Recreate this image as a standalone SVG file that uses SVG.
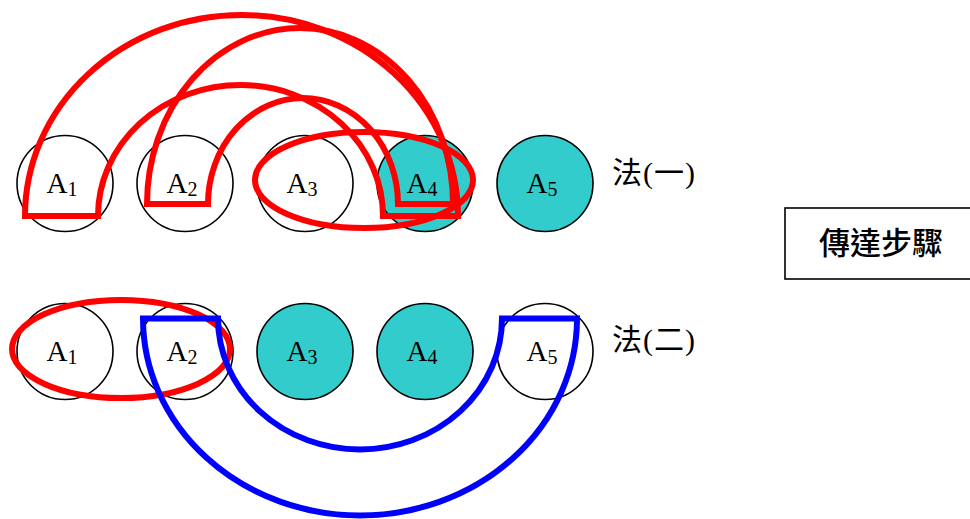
<svg xmlns="http://www.w3.org/2000/svg" width="970" height="519" viewBox="0 0 970 519">
<style>
.node circle{stroke:#000;stroke-width:1.6}
.plain{fill:#fff}
.teal{fill:#33CCCC}
.lbl{font-family:"Liberation Serif","Times New Roman",serif;font-size:29px;fill:#000;text-anchor:middle}
.sub{font-size:20px}
.red{fill:none;stroke:#FF0000;stroke-width:6}
.blue{fill:none;stroke:#0000FF;stroke-width:6}
.cap{font-family:"Liberation Serif","Noto Sans CJK TC",serif;font-size:30px;letter-spacing:1px;fill:#000}
.title{font-family:"Noto Sans CJK TC","Noto Sans CJK SC",sans-serif;font-size:31px;font-weight:500;fill:#000;text-anchor:middle}
</style>
<rect width="970" height="519" fill="#fff"/>
<g id="row1">
<g id="t-A1" class="node"><circle class="plain" cx="65" cy="183.5" r="48"/><text class="lbl" x="62" y="193">A<tspan class="sub" dy="3">1</tspan></text></g>
<g id="t-A2" class="node"><circle class="plain" cx="185" cy="183.5" r="48"/><text class="lbl" x="182" y="193">A<tspan class="sub" dy="3">2</tspan></text></g>
<g id="t-A3" class="node"><circle class="plain" cx="305" cy="183.5" r="48"/><text class="lbl" x="302" y="193">A<tspan class="sub" dy="3">3</tspan></text></g>
<g id="t-A4" class="node"><circle class="teal" cx="425" cy="183.5" r="48"/><text class="lbl" x="422" y="193">A<tspan class="sub" dy="3">4</tspan></text></g>
<g id="t-A5" class="node"><circle class="teal" cx="545" cy="183.5" r="48"/><text class="lbl" x="542" y="193">A<tspan class="sub" dy="3">5</tspan></text></g>
</g>
<g id="row2">
<g id="b-A1" class="node"><circle class="plain" cx="65" cy="351.5" r="48"/><text class="lbl" x="62" y="361">A<tspan class="sub" dy="3">1</tspan></text></g>
<g id="b-A2" class="node"><circle class="plain" cx="185" cy="351.5" r="48"/><text class="lbl" x="182" y="361">A<tspan class="sub" dy="3">2</tspan></text></g>
<g id="b-A3" class="node"><circle class="teal" cx="305" cy="351.5" r="48"/><text class="lbl" x="302" y="361">A<tspan class="sub" dy="3">3</tspan></text></g>
<g id="b-A4" class="node"><circle class="teal" cx="425" cy="351.5" r="48"/><text class="lbl" x="422" y="361">A<tspan class="sub" dy="3">4</tspan></text></g>
<g id="b-A5" class="node"><circle class="plain" cx="545" cy="351.5" r="48"/><text class="lbl" x="542" y="361">A<tspan class="sub" dy="3">5</tspan></text></g>
</g>
<g id="connectors">
<path class="red" d="M25 216 A216.5 201 0 0 1 458 216 L383 216 A142.5 131 0 0 0 98 216 Z"/>
<path class="red" d="M147 204 A153 176 0 0 1 453 204 L398 204 A95 106 0 0 0 208 204 Z"/>
<ellipse class="red" cx="364" cy="180" rx="109" ry="48"/>
<ellipse class="red" cx="121" cy="349" rx="109" ry="49"/>
<path class="blue" d="M143 318.5 A217 197 0 0 0 577 318.5 L502 318.5 A142 131 0 0 1 218 318.5 Z"/>
</g>
<g id="label1"><text class="cap" x="612" y="183">法(一)</text></g>
<g id="label2"><text class="cap" x="612" y="350">法(二)</text></g>
<g id="legend">
<rect x="785" y="208" width="200" height="71" fill="#fff" stroke="#000" stroke-width="1.6"/>
<text class="title" x="881" y="254">傳達步驟</text>
</g>
</svg>
